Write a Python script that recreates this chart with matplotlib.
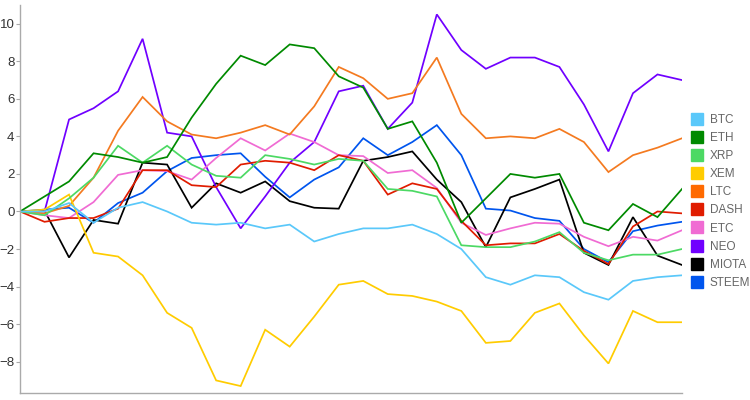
import matplotlib
matplotlib.use("Agg")
import matplotlib.pyplot as plt
from matplotlib.lines import Line2D

plt.rcParams['font.family'] = ['Liberation Sans', 'DejaVu Sans']

# Values per day (28 points)
days = list(range(28))

BTC = [0, 0, 0.45, -0.6, 0.2, 0.5, 0.0, -0.6, -0.7, -0.6, -0.9, -0.7, -1.6, -1.2,
       -0.9, -0.9, -0.7, -1.2, -2.0, -3.5, -3.9, -3.4, -3.5, -4.3, -4.7, -3.7, -3.5, -3.4]
ETH = [0, 0.8, 1.6, 3.1, 2.9, 2.6, 2.9, 5.0, 6.8, 8.3, 7.8, 8.9, 8.7, 7.2,
       6.6, 4.4, 4.8, 2.6, -0.6, 0.7, 2.0, 1.8, 2.0, -0.6, -1.0, 0.4, -0.3, 1.2]
XRP = [0, -0.2, 0.7, 1.8, 3.5, 2.6, 3.5, 2.5, 1.9, 1.8, 3.0, 2.8, 2.5, 2.8,
       2.7, 1.2, 1.1, 0.8, -1.8, -1.9, -1.9, -1.6, -1.1, -2.2, -2.6, -2.3, -2.3, -2.0]
XEM = [0, 0.1, 0.9, -2.2, -2.4, -3.4, -5.4, -6.2, -9.0, -9.3, -6.3, -7.2, -5.6, -3.9,
       -3.7, -4.4, -4.5, -4.8, -5.3, -7.0, -6.9, -5.4, -4.9, -6.6, -8.1, -5.3, -5.9, -5.9]
LTC = [0, -0.1, 0.3, 1.8, 4.3, 6.1, 4.8, 4.1, 3.9, 4.2, 4.6, 4.1, 5.6, 7.7,
       7.1, 6.0, 6.3, 8.2, 5.2, 3.9, 4.0, 3.9, 4.4, 3.7, 2.1, 3.0, 3.4, 3.9]
DASH = [0, -0.55, -0.35, -0.35, 0.15, 2.2, 2.2, 1.4, 1.3, 2.5, 2.7, 2.6, 2.2, 3.0,
        2.7, 0.9, 1.5, 1.2, -0.5, -1.8, -1.7, -1.7, -1.2, -2.1, -2.8, -0.8, 0.0, -0.1]
ETC = [0, -0.2, -0.35, 0.5, 1.95, 2.2, 2.15, 1.7, 2.85, 3.9, 3.25, 4.15, 3.7, 3.0,
       2.95, 2.05, 2.2, 1.25, -0.6, -1.25, -0.9, -0.6, -0.65, -1.35, -1.85, -1.35, -1.55, -1.0]
NEO = [0, 0, 4.9, 5.5, 6.4, 9.2, 4.2, 4.0, 1.3, -0.9, 0.8, 2.6, 3.7, 6.4,
       6.7, 4.4, 5.8, 10.5, 8.6, 7.6, 8.2, 8.2, 7.7, 5.7, 3.2, 6.3, 7.3, 7.0]
MIOTA = [0, 0.05, -2.45, -0.45, -0.65, 2.6, 2.5, 0.2, 1.5, 1.0, 1.6, 0.55, 0.2, 0.15,
         2.7, 2.9, 3.2, 1.7, 0.5, -1.9, 0.75, 1.2, 1.7, -2.2, -2.85, -0.3, -2.35, -2.85]
STEEM = [0, 0.1, 0.2, -0.6, 0.45, 1.0, 2.15, 2.85, 3.0, 3.1, 1.85, 0.75, 1.7, 2.35,
         3.9, 3.0, 3.7, 4.6, 3.0, 0.15, 0.05, -0.35, -0.5, -2.0, -2.7, -1.05, -0.75, -0.55]

names = ["BTC", "ETH", "XRP", "XEM", "LTC", "DASH", "ETC", "NEO", "MIOTA", "STEEM"]
series = [BTC, ETH, XRP, XEM, LTC, DASH, ETC, NEO, MIOTA, STEEM]
colors = ["#5ac8fa", "#008a00", "#4cd964", "#ffcc00", "#ff6a00",
          "#e01c00", "#f06bd3", "#7000ff", "#000000", "#0055ee"]
# the orange line reads a bit lighter than its legend swatch
line_colors = colors.copy()
line_colors[4] = "#f47a20"

fig = plt.figure(figsize=(7.5, 4), dpi=100)
ax = fig.add_axes([20 / 750, 7 / 400, 662 / 750, 388 / 400])

# draw in reverse so the first series end up on top like the original
for name, vals, c in list(zip(names, series, line_colors))[::-1]:
    ax.plot(days, vals, color=c, lw=1.25, solid_joinstyle="miter")

ax.set_xlim(0, 27)
ax.set_ylim(-9.67, 11.0)
ax.set_yticks(range(-8, 11, 2))
ax.set_xticks([])
for s in ["top", "right"]:
    ax.spines[s].set_visible(False)
for s in ["left", "bottom"]:
    ax.spines[s].set_color("#aaaaaa")
    ax.spines[s].set_linewidth(1.0)
ax.tick_params(axis="y", length=3, width=0.8, color="#aaaaaa", labelsize=9.5,
               labelcolor="#333333", pad=1)

handles = [Line2D([], [], color=c, marker="s", markersize=9, linestyle="none")
           for c in colors]
leg = fig.legend(handles, names, loc="upper left", bbox_to_anchor=(686 / 750, 1 - 109 / 400),
                 frameon=False, fontsize=8.5, handlelength=1.0, handletextpad=0.6,
                 labelspacing=0.52, borderaxespad=0)
for t in leg.get_texts():
    t.set_color("#666666")

fig.savefig("out.png", dpi=100)
